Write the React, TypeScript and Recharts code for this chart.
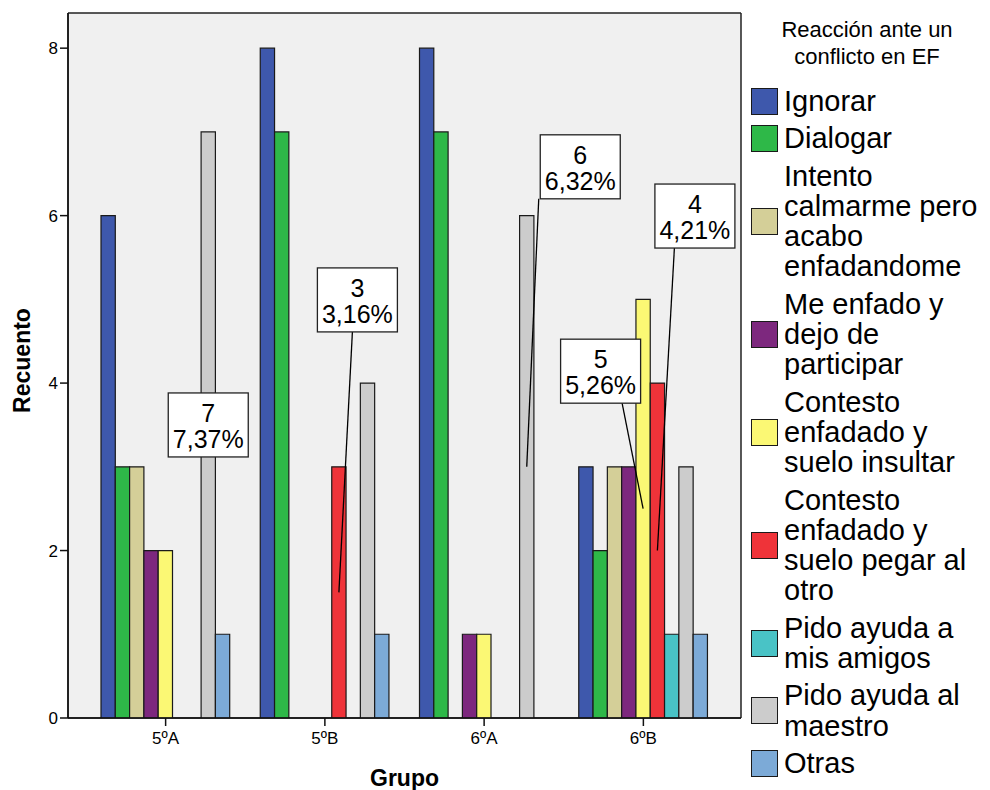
import React from 'react';
import { BarChart, Bar, XAxis, YAxis, CartesianGrid, LabelList, Legend } from 'recharts';

const GROUPS = ['5ºA', '5ºB', '6ºA', '6ºB'];

const IGNORAR = [6, 8, 8, 3];
const DIALOGAR = [3, 7, 7, 2];
const INTENTO = [3, 0, 0, 3];
const ME_ENFADO = [2, 0, 1, 3];
const INSULTAR = [2, 0, 1, 5];
const PEGAR = [0, 3, 0, 4];
const AMIGOS = [0, 0, 0, 1];
const MAESTRO = [7, 4, 6, 3];
const OTRAS = [1, 1, 0, 1];

const SERIES_NAMES = [
  'Ignorar',
  'Dialogar',
  'Intento calmarme pero acabo enfadandome',
  'Me enfado y dejo de participar',
  'Contesto enfadado y suelo insultar',
  'Contesto enfadado y suelo pegar al otro',
  'Pido ayuda a mis amigos',
  'Pido ayuda al maestro',
  'Otras',
];
const SERIES_VALUES = [IGNORAR, DIALOGAR, INTENTO, ME_ENFADO, INSULTAR, PEGAR, AMIGOS, MAESTRO, OTRAS];
const SERIES_COLORS = ['#3e58ac', '#2eb848', '#d4cf98', '#7d287e', '#fbf874', '#ef3339', '#49c3c6', '#cccccc', '#7caad7'];

const LEGEND_TITLE = ['Reacción ante un', 'conflicto en EF'];
const LEGEND_LINES = [
  ['Ignorar'],
  ['Dialogar'],
  ['Intento', 'calmarme pero', 'acabo', 'enfadandome'],
  ['Me enfado y', 'dejo de', 'participar'],
  ['Contesto', 'enfadado y', 'suelo insultar'],
  ['Contesto', 'enfadado y', 'suelo pegar al', 'otro'],
  ['Pido ayuda a', 'mis amigos'],
  ['Pido ayuda al', 'maestro'],
  ['Otras'],
];

const Y_TICKS = [0, 2, 4, 6, 8];
const Y_MAX = 8.42;

// callouts: series index, group name, box offset from bar middle, line start offset on box bottom
const CALLOUTS = [
  { s: 7, g: '5ºA', dx: 0, dy: 0, lx: null },
  { s: 5, g: '5ºB', dx: 18.5, dy: -292.5, lx: -5 },
  { s: 7, g: '6ºA', dx: 53.5, dy: -300, lx: -41.5 },
  { s: 4, g: '6ºB', dx: -42.5, dy: -137.5, lx: 21.5 },
  { s: 5, g: '6ºB', dx: 37.5, dy: -334.5, lx: -20.5 },
];

const TOTAL = SERIES_VALUES.reduce((acc, arr) => acc + arr.reduce((a, b) => a + b, 0), 0);

const data = GROUPS.map((g, gi) => {
  const row: any = { group: g };
  SERIES_VALUES.forEach((arr, si) => {
    row['s' + si] = arr[gi];
  });
  return row;
});

const FONT = '"Liberation Sans", Arial, Helvetica, sans-serif';
const BOX_W = 80;
const BOX_H = 64;

const makeCallout = (sIdx: number) => (props: any) => {
  const { x, y, width, height, value } = props;
  if (value == null) return null;
  const [grp, valStr] = String(value).split('|');
  const v = Number(valStr);
  const c = CALLOUTS.find((k) => k.s === sIdx && k.g === grp);
  if (!c || !v) return null;
  const cx = Number(x) + Number(width) / 2;
  const cy = Number(y) + Number(height) / 2;
  const bx = cx + c.dx;
  const by = cy + c.dy;
  const pct = ((v / TOTAL) * 100).toFixed(2).replace('.', ',') + '%';
  return (
    <g>
      {c.lx !== null && (
        <line x1={bx + (c.lx as number)} y1={by + BOX_H / 2} x2={cx} y2={cy} stroke="#000" strokeWidth={1.3} />
      )}
      <rect x={bx - BOX_W / 2} y={by - BOX_H / 2} width={BOX_W} height={BOX_H} fill="#fff" stroke="#222" strokeWidth={1.3} />
      <text x={bx} y={by - 12} textAnchor="middle" dominantBaseline="central" fontSize={25} fontFamily={FONT} fill="#000">
        {String(v)}
      </text>
      <text x={bx} y={by + 14} textAnchor="middle" dominantBaseline="central" fontSize={25} fontFamily={FONT} fill="#000">
        {pct}
      </text>
    </g>
  );
};

const LegendBox = () => (
  <div style={{ fontFamily: FONT, color: '#000', width: 248 }}>
    <div style={{ fontSize: 22, lineHeight: '27px', textAlign: 'center', paddingTop: 16, paddingLeft: 2 }}>
      {LEGEND_TITLE.map((t, i) => (
        <div key={i}>{t}</div>
      ))}
    </div>
    <div style={{ marginTop: 16 }}>
      {LEGEND_LINES.map((lines, i) => (
        <div key={i} style={{ display: 'flex', alignItems: 'center', marginBottom: 7 }}>
          <div
            style={{
              width: 25,
              height: 25,
              marginLeft: 9,
              marginRight: 6,
              background: SERIES_COLORS[i],
              border: '1.5px solid #1a1a1a',
              flexShrink: 0,
            }}
          />
          <div style={{ fontSize: 29, lineHeight: '30.3px', whiteSpace: 'nowrap' }}>
            {lines.map((l, j) => (
              <div key={j}>{l}</div>
            ))}
          </div>
        </div>
      ))}
    </div>
  </div>
);

const XLabel = (props: any) => {
  const vb = props.viewBox || {};
  return (
    <text x={vb.x + vb.width / 2} y={vb.y + vb.height + 38} textAnchor="middle" fontSize={23} fontWeight="bold" fontFamily={FONT} fill="#000">
      Grupo
    </text>
  );
};

const YLabel = (props: any) => {
  const vb = props.viewBox || {};
  const x = 30;
  const y = vb.y + vb.height / 2 - 5;
  return (
    <text x={x} y={y} transform={`rotate(-90, ${x}, ${y})`} textAnchor="middle" fontSize={23} fontWeight="bold" fontFamily={FONT} fill="#000">
      Recuento
    </text>
  );
};

export default function App() {
  return (
    <div style={{ position: 'absolute', left: 0, top: 0, width: 990, height: 790, background: '#fff' }}>
      <BarChart
        width={990}
        height={790}
        data={data}
        margin={{ top: 13, right: 249, bottom: 42, left: 0 }}
        barSize={14.3}
        barGap={0}
      >
        <CartesianGrid
          fill="#f0f0f0"
          stroke="#222"
          strokeWidth={1.5}
          horizontalCoordinatesGenerator={({ offset }: any) => [offset.top, offset.top + offset.height]}
          verticalCoordinatesGenerator={({ offset }: any) => [offset.left, offset.left + offset.width]}
        />
        <XAxis
          dataKey="group"
          height={30}
          padding={{ left: 18, right: 18 }}
          tickSize={8}
          tickMargin={6}
          tick={{ fill: '#000', fontSize: 17, fontFamily: FONT }}
          axisLine={{ stroke: '#111', strokeWidth: 1.5 }}
          tickLine={{ stroke: '#111', strokeWidth: 1.5 }}
          label={<XLabel />}
        />
        <YAxis
          width={68}
          domain={[0, Y_MAX]}
          ticks={Y_TICKS}
          allowDataOverflow
          tickSize={8}
          tickMargin={2}
          tick={{ fill: '#000', fontSize: 17, fontFamily: FONT }}
          axisLine={{ stroke: '#111', strokeWidth: 1.5 }}
          tickLine={{ stroke: '#111', strokeWidth: 1.5 }}
          label={<YLabel />}
        />
        <Legend
          layout="horizontal"
          verticalAlign="middle"
          align="center"
          content={() => <LegendBox />}
          wrapperStyle={{ position: 'absolute', left: 742, top: 0, width: 248, height: 790 }}
        />
        {SERIES_NAMES.map((name, si) => (
          <Bar
            key={si}
            dataKey={'s' + si}
            name={name}
            fill={SERIES_COLORS[si]}
            stroke="#1a1a1a"
            strokeWidth={1.2}
            isAnimationActive={false}
          >
            <LabelList dataKey={(entry: any) => entry.group + '|' + entry['s' + si]} content={makeCallout(si)} />
          </Bar>
        ))}
      </BarChart>
    </div>
  );
}
